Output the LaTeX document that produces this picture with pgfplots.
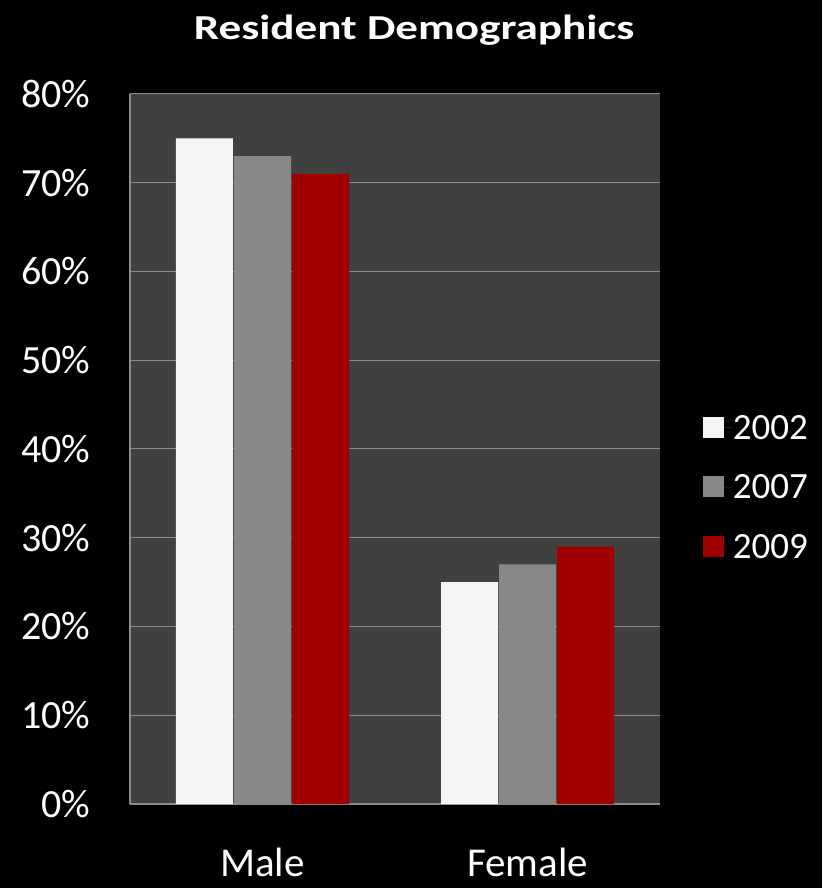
\documentclass[border=0pt]{standalone}
\usepackage{fontspec}
\setmainfont{Carlito}
\usepackage{graphicx}
\usepackage{pgfplots}
\pgfplotsset{compat=1.18}
\definecolor{plotbg}{HTML}{404040}
\definecolor{gridc}{HTML}{8A8A8A}
\definecolor{cA}{HTML}{F4F4F4}
\definecolor{cB}{HTML}{878787}
\definecolor{cC}{HTML}{A00000}
\begin{document}
\begin{tikzpicture}
\fill[black] (-130pt,-84pt) rectangle (692pt,804pt);
\begin{axis}[
  scale only axis,
  width=530pt, height=710pt,
  at={(0pt,0pt)}, anchor=south west,
  axis background/.style={fill=plotbg},
  axis lines*=left,
  axis line style={draw=gridc, line width=1.5pt, -},
  ybar=1pt, bar width=57pt,
  xmin=-0.5, xmax=1.5,
  ymin=0, ymax=80,
  xtick={0,1}, xticklabels={Male,Female},
  ytick={0,10,20,30,40,50,60,70,80},
  yticklabels={0\%,10\%,20\%,30\%,40\%,50\%,60\%,70\%,80\%},
  major tick length=0pt,
  ymajorgrids, grid style={draw=gridc, line width=1pt},
  yticklabel style={text=white, font=\fontsize{40}{46}\selectfont, anchor=east, xshift=-36pt},
  xticklabel style={text=white, font=\fontsize{41}{47}\selectfont, anchor=north, yshift=-40pt},
  title={\scalebox{1.29}[1]{Resident Demographics}},
  title style={at={(0.536,1)}, anchor=center, yshift=58pt, text=white, font=\fontsize{35}{42}\selectfont\bfseries},
  legend style={at={(1.075,0.446)}, anchor=west, draw=none, fill=none, text=white,
    font=\fontsize{37}{44}\selectfont, row sep=30pt,
    legend cell align=left},
  legend image code/.code={\fill[#1] (0pt,-10pt) rectangle (21pt,11pt); \path (0pt,0pt) -- (28pt,0pt);},
]
\addplot[draw=none, fill=cA] coordinates {(0,75) (1,25)};
\addplot[draw=none, fill=cB] coordinates {(0,73) (1,27)};
\addplot[draw=none, fill=cC] coordinates {(0,71) (1,29)};
\legend{2002,2007,2009}
\end{axis}
\pgfresetboundingbox
\path (-130pt,-84pt) rectangle (692pt,804pt);
\end{tikzpicture}
\end{document}
